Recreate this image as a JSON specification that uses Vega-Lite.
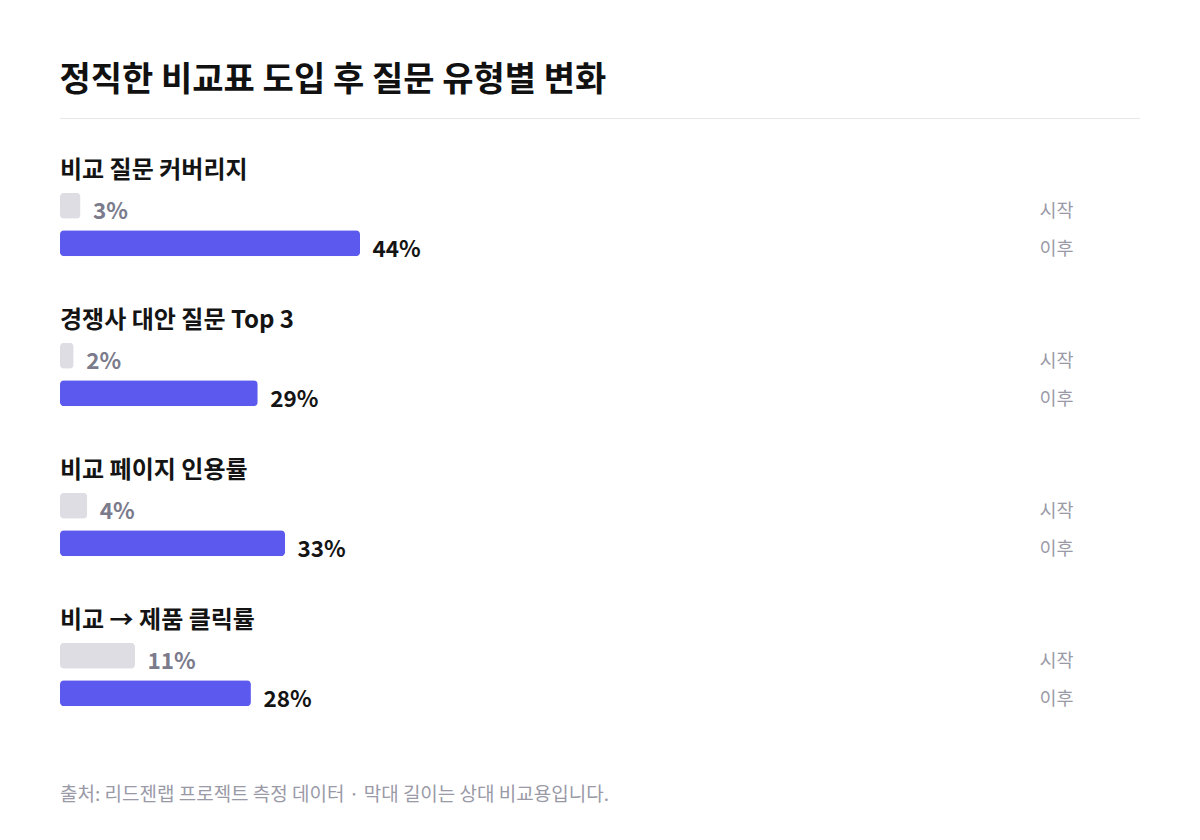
{
  "$schema": "https://vega.github.io/schema/vega-lite/v6.json",
  "autosize": {"type": "none"},
  "padding": {"left": 60, "top": 112, "right": 60, "bottom": 0},
  "width": 1080,
  "height": 712.5,
  "background": "#ffffff",
  "title": {
    "text": "정직한 비교표 도입 후 질문 유형별 변화",
    "anchor": "start",
    "offset": 14,
    "font": "Noto Sans CJK KR",
    "fontSize": 34,
    "fontWeight": "bold",
    "color": "#111111"
  },
  "config": {
    "view": {"stroke": null},
    "font": "Noto Sans CJK KR"
  },
  "datasets": {
    "bars": [
      {"group": "비교 질문 커버리지", "phase": "시작", "value": 0.03, "row": "비교 질문 커버리지|시작"},
      {"group": "비교 질문 커버리지", "phase": "이후", "value": 0.44, "row": "비교 질문 커버리지|이후"},
      {"group": "경쟁사 대안 질문 Top 3", "phase": "시작", "value": 0.02, "row": "경쟁사 대안 질문 Top 3|시작"},
      {"group": "경쟁사 대안 질문 Top 3", "phase": "이후", "value": 0.29, "row": "경쟁사 대안 질문 Top 3|이후"},
      {"group": "비교 페이지 인용률", "phase": "시작", "value": 0.04, "row": "비교 페이지 인용률|시작"},
      {"group": "비교 페이지 인용률", "phase": "이후", "value": 0.33, "row": "비교 페이지 인용률|이후"},
      {"group": "비교 → 제품 클릭률", "phase": "시작", "value": 0.11, "row": "비교 → 제품 클릭률|시작"},
      {"group": "비교 → 제품 클릭률", "phase": "이후", "value": 0.28, "row": "비교 → 제품 클릭률|이후"}
    ]
  },
  "layer": [
    {
      "data": {"values": [{"row": "rule"}]},
      "mark": {"type": "rule", "color": "#e6e6eb", "strokeWidth": 1, "yOffset": -12.2},
      "encoding": {
        "y": {"field": "row", "type": "nominal"}
      }
    },
    {
      "data": {"name": "bars"},
      "transform": [{"filter": "datum.phase === '시작'"}],
      "mark": {
        "type": "text",
        "align": "left",
        "baseline": "middle",
        "fontSize": 24,
        "fontWeight": "bold",
        "color": "#141414",
        "dy": 2.5
      },
      "encoding": {
        "y": {"field": "group", "type": "nominal"},
        "x": {"datum": 0, "type": "quantitative"},
        "text": {"field": "group"}
      }
    },
    {
      "data": {"name": "bars"},
      "mark": {"type": "bar", "cornerRadius": 4},
      "encoding": {
        "y": {"field": "row", "type": "nominal"},
        "x": {"field": "value", "type": "quantitative"},
        "color": {
          "field": "phase",
          "type": "nominal",
          "scale": {"domain": ["시작", "이후"], "range": ["#dedde3", "#5b59ee"]},
          "legend": null
        }
      }
    },
    {
      "data": {"name": "bars"},
      "mark": {
        "type": "text",
        "align": "left",
        "baseline": "middle",
        "dx": 12.5,
        "dy": 6.5,
        "fontSize": 22.5,
        "fontWeight": "bold"
      },
      "encoding": {
        "y": {"field": "row", "type": "nominal"},
        "x": {"field": "value", "type": "quantitative"},
        "text": {"field": "value", "type": "quantitative", "format": ".0%"},
        "color": {
          "condition": {"test": "datum.phase === '시작'", "value": "#7b7b8c"},
          "value": "#141414"
        }
      }
    },
    {
      "data": {"values": [{"row": "note", "note": "출처: 리드젠랩 프로젝트 측정 데이터 · 막대 길이는 상대 비교용입니다."}]},
      "mark": {
        "type": "text",
        "align": "left",
        "baseline": "middle",
        "fontSize": 19,
        "color": "#9a9aa7",
        "dy": -10.5
      },
      "encoding": {
        "y": {"field": "row", "type": "nominal"},
        "x": {"datum": 0, "type": "quantitative"},
        "text": {"field": "note"}
      }
    }
  ],
  "resolve": {"scale": {"y": "shared", "x": "shared"}},
  "encoding": {
    "x": {
      "type": "quantitative",
      "scale": {"domain": [0, 1.584], "nice": false, "zero": true},
      "axis": null
    },
    "y": {
      "type": "nominal",
      "scale": {
        "type": "band",
        "domain": [
          "rule",
          "비교 질문 커버리지", "비교 질문 커버리지|시작", "비교 질문 커버리지|이후", "gap1",
          "경쟁사 대안 질문 Top 3", "경쟁사 대안 질문 Top 3|시작", "경쟁사 대안 질문 Top 3|이후", "gap2",
          "비교 페이지 인용률", "비교 페이지 인용률|시작", "비교 페이지 인용률|이후", "gap3",
          "비교 → 제품 클릭률", "비교 → 제품 클릭률|시작", "비교 → 제품 클릭률|이후", "gap4",
          "gap5", "note"
        ],
        "paddingInner": 0.3067,
        "paddingOuter": 0.15335
      },
      "axis": {
        "orient": "right",
        "offset": -101,
        "title": null,
        "domain": false,
        "ticks": false,
        "tickSize": 0,
        "grid": false,
        "labelPadding": 0,
        "labelAlign": "left",
        "labelBaseline": "middle",
        "labelOffset": 5.5,
        "labelFont": "Noto Sans CJK KR",
        "labelFontSize": 18.5,
        "labelColor": "#9a9aa7",
        "labelExpr": "indexof(datum.value, '|') > 0 ? split(datum.value, '|')[1] : ''"
      }
    }
  }
}
